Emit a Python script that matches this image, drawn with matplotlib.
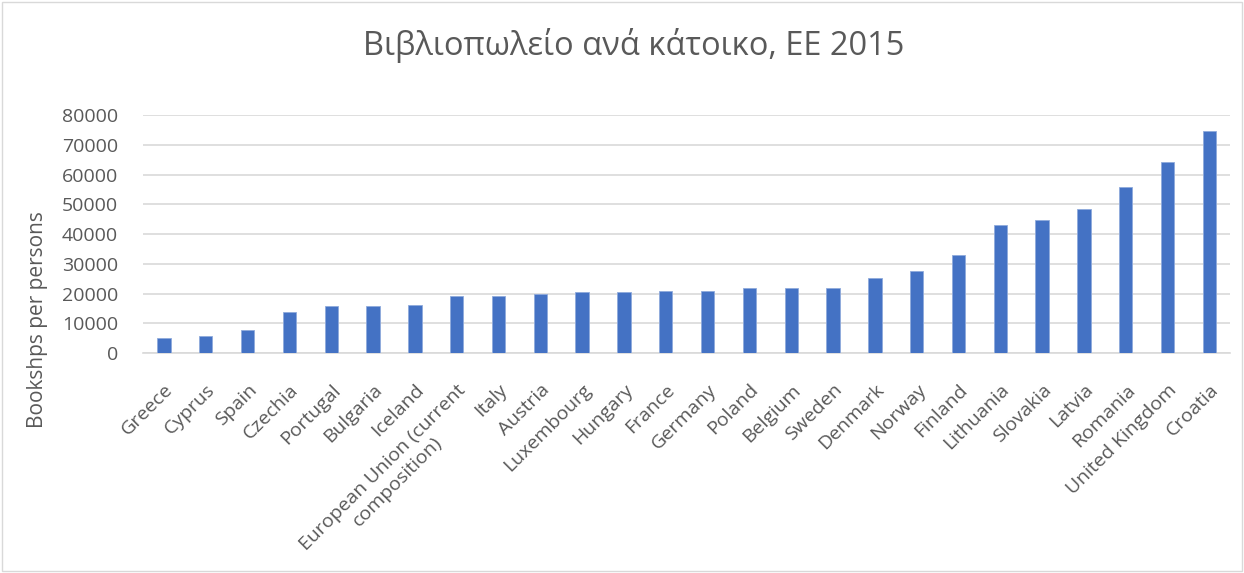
import matplotlib.pyplot as plt
from matplotlib.patches import Rectangle

# Data
countries = ['Greece', 'Cyprus', 'Spain', 'Czechia', 'Portugal', 'Bulgaria', 'Iceland',
             'European Union (current\ncomposition)', 'Italy', 'Austria', 'Luxembourg',
             'Hungary', 'France', 'Germany', 'Poland', 'Belgium', 'Sweden', 'Denmark',
             'Norway', 'Finland', 'Lithuania', 'Slovakia', 'Latvia', 'Romania',
             'United Kingdom', 'Croatia']
values = [4900, 5600, 7600, 13800, 15700, 15700, 16300, 19000, 19000, 19800, 20400,
          20400, 21000, 21000, 21700, 21700, 21700, 25100, 27700, 33100, 43200, 44600,
          48500, 55900, 64100, 74800]
yticks = [0, 10000, 20000, 30000, 40000, 50000, 60000, 70000, 80000]

plt.rcParams['font.family'] = ['Open Sans', 'DejaVu Sans']
text_col = '#595959'

fig = plt.figure(figsize=(12.44, 5.73), dpi=100)
ax = fig.add_axes([0.115, 0.384, 0.874, 0.415])

x = list(range(len(countries)))
ax.bar(x, values, width=0.32, color='#4472C4', edgecolor='#8FAADC', linewidth=0.6, zorder=3)

ax.set_xlim(-0.5, len(countries) - 0.5)
ax.set_ylim(0, 80000)
ax.set_yticks(yticks)
ax.set_yticklabels([str(v) for v in yticks])
ax.yaxis.grid(True, color='#D9D9D9', linewidth=1.2, zorder=0)
ax.set_axisbelow(True)

ax.set_xticks(x)
ax.set_xticklabels(countries, rotation=45, ha='right', rotation_mode='anchor',
                   multialignment='center')
ax.tick_params(axis='both', length=0, labelsize=14, colors=text_col)
ax.tick_params(axis='x', pad=20)
ax.tick_params(axis='y', pad=18)

for side in ['top', 'right', 'left']:
    ax.spines[side].set_visible(False)
ax.spines['bottom'].set_color('#D9D9D9')
ax.spines['bottom'].set_linewidth(1.2)

fig.text(0.509, 0.921, 'Βιβλιοπωλείο ανά κάτοικο, ΕΕ 2015', ha='center', va='center',
         fontsize=23.5, color=text_col)
fig.text(0.030, 0.443, 'Bookshps per persons', rotation=90, ha='center', va='center',
         fontsize=15, color=text_col)

# light border around the chart area
fig.patches.append(Rectangle((0.002, 0.003), 0.996, 0.994, transform=fig.transFigure,
                             fill=False, edgecolor='#D9D9D9', linewidth=1))

fig.savefig('out.png', dpi=100)
